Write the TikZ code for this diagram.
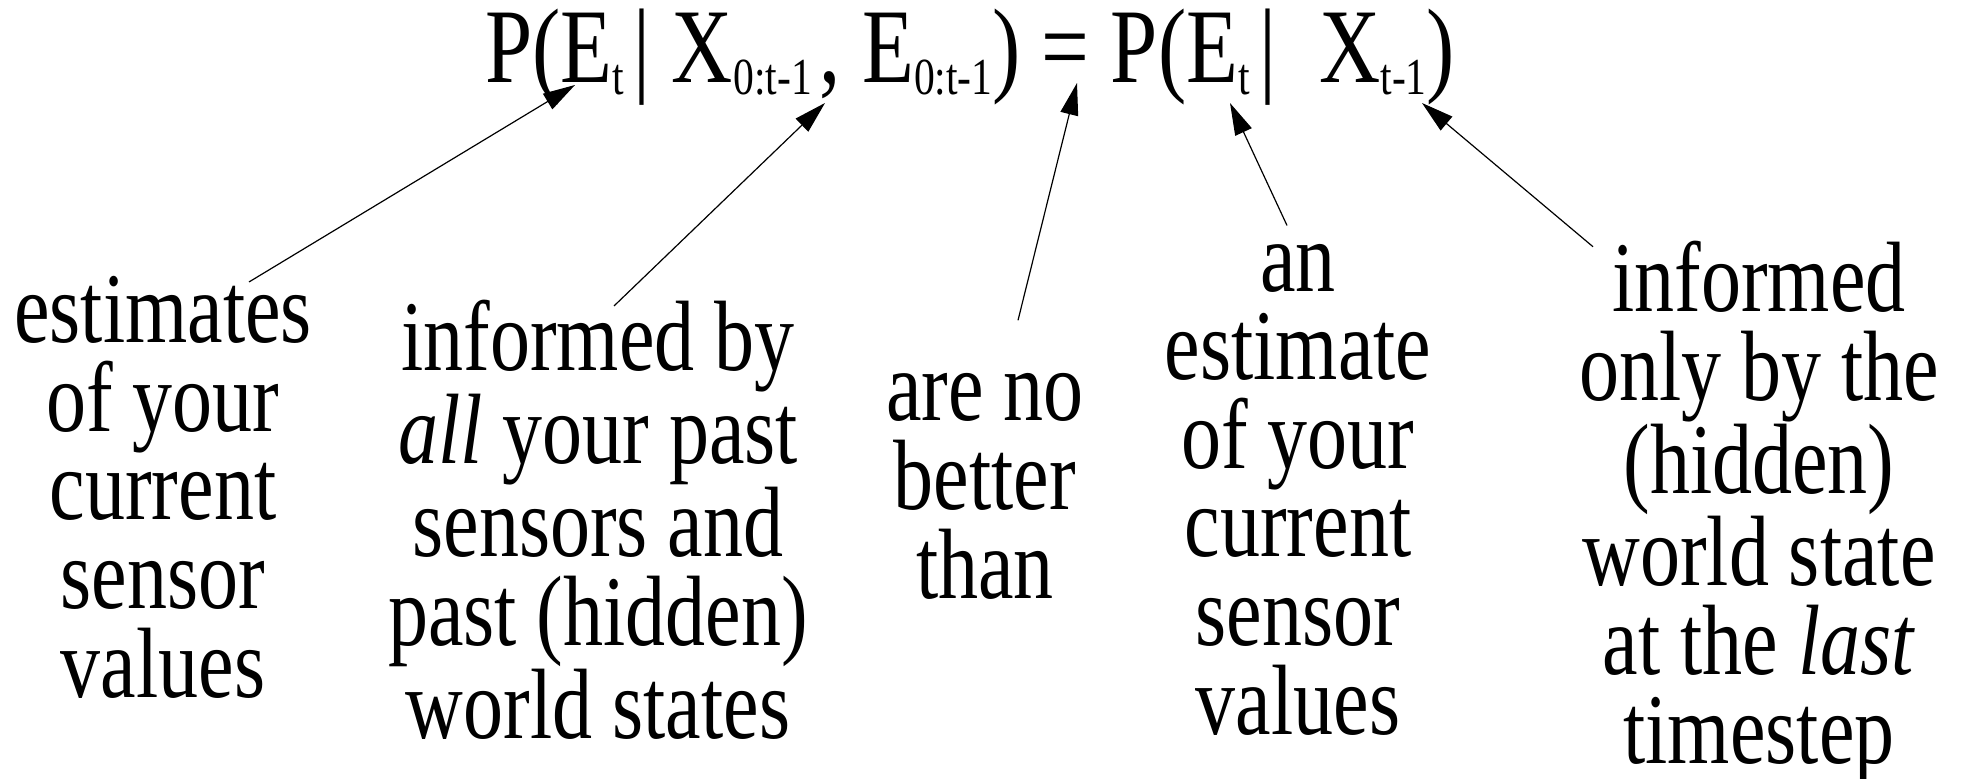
\documentclass[tikz,border=0pt]{standalone}
\usepackage{fontspec}
\setmainfont[FakeStretch=0.8]{Liberation Serif}
\usetikzlibrary{arrows.meta,positioning}
\newcommand{\Sb}[1]{\raisebox{-6pt}{\fontsize{26}{26}\selectfont #1}}
\tikzset{
  note/.style={align=center,inner sep=0pt,font=\fontsize{50}{44.3}\selectfont},
  pointer/.style={-{Triangle[length=16pt,width=9pt]},line width=0.6pt},
}
\begin{document}
\begin{tikzpicture}[x=0.5pt,y=-0.5pt]
\useasboundingbox (0,0) rectangle (1963,779);
% the formula
\node[anchor=base,inner sep=0pt,font=\fontsize{53}{53}\selectfont] (eq) at (970,83)
  {P(E\Sb{t}\kern5pt| X\Sb{0:t-1}\kern4pt, E\Sb{0:t-1}) = P(E\Sb{t}\kern5pt|\ \ X\Sb{t-1})};
\coordinate (tipEt) at (575,85);
\coordinate (tipPast) at (825,103);
\coordinate (tipEq) at (1077,83);
\coordinate (tipEtb) at (1230,103);
\coordinate (tipX) at (1422,103);
% the notes (placed by their last line)
\node[note,anchor=base] (cur) at (163,697) {estimates\\of your\\current\\sensor\\values};
\node[note,anchor=base] (past) at (598,738) {informed by\\\textit{all} your past\\sensors and\\past (hidden)\\world states};
\node[note,anchor=base] (nobetter) at (985,598) {are no\\better\\than};
\node[note,anchor=base] (est) at (1298,734) {an\\estimate\\of your\\current\\sensor\\values};
\node[note,anchor=base] (last) at (1759,763) {informed\\only by the\\(hidden)\\world state\\at the \textit{last}\\timestep};
% pointers
\draw[pointer] ([shift={(86,6)}]cur.north) -- (tipEt);
\draw[pointer] ([shift={(16,6)}]past.north) -- (tipPast);
\draw[pointer] ([shift={(33,-53)}]nobetter.north) -- (tipEq);
\draw[pointer] ([shift={(-11,-18)}]est.north) -- (tipEtb);
\draw[pointer] ([shift={(-166,6)}]last.north) -- (tipX);
\end{tikzpicture}
\end{document}
